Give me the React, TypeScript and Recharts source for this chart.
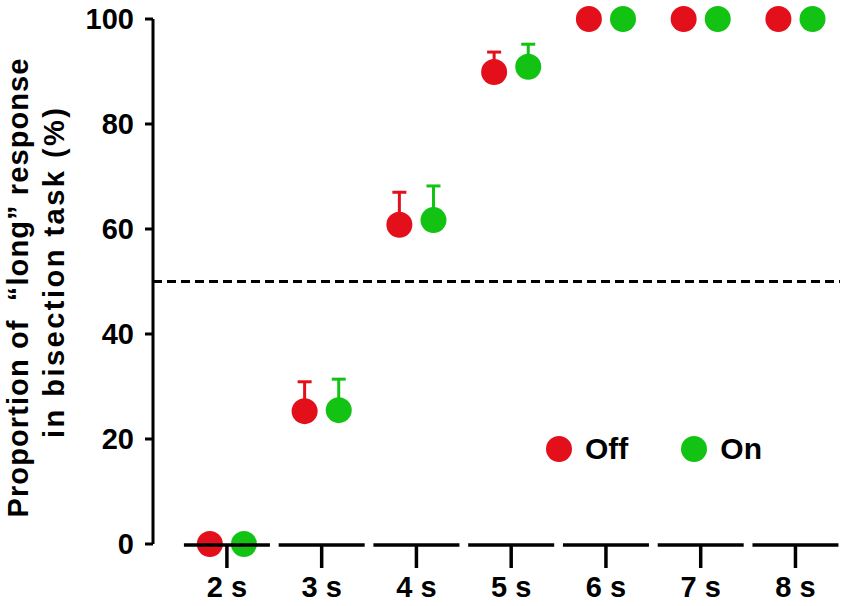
import React from 'react';
import { ComposedChart, Scatter, XAxis, YAxis, ReferenceLine, ErrorBar, Legend } from 'recharts';

// durations tested in the bisection task
const categories = ['2 s', '3 s', '4 s', '5 s', '6 s', '7 s', '8 s'];

// "long" responses (%) and upper error, light off / light on
const offMean = [0, 25.3, 60.8, 89.9, 100, 100, 100];
const offErr = [0, 5.6, 6.2, 3.8, 0, 0, 0];
const onMean = [0, 25.5, 61.7, 90.9, 100, 100, 100];
const onErr = [0, 5.9, 6.5, 4.3, 0, 0, 0];

const yTicks = [0, 20, 40, 60, 80, 100];
const chanceLevel = 50;

const RED = '#e3101c';
const GREEN = '#13c313';
const FONT = '"Liberation Sans", Arial, sans-serif';
const SHIFT = 0.18; // side-by-side offset within a category

const offData = categories.map((_, i) => ({ x: i - SHIFT, y: offMean[i], err: [0, offErr[i]] }));
const onData = categories.map((_, i) => ({ x: i + SHIFT, y: onMean[i], err: [0, onErr[i]] }));

const XTick = (props: any) => {
  const { x, y, payload } = props;
  return (
    <g>
      <line x1={x - 43} x2={x + 43} y1={y + 1} y2={y + 1} stroke="#000" strokeWidth={3.5} />
      <line x1={x} x2={x} y1={y + 1} y2={y + 24} stroke="#000" strokeWidth={3.5} />
      <text x={x} y={y + 53} textAnchor="middle" fill="#000" fontFamily={FONT} fontWeight="bold" fontSize={29}>
        {categories[payload.value]}
      </text>
    </g>
  );
};

const YTitle = () => (
  <g fontFamily={FONT} fontWeight="bold" fontSize={29} fill="#000">
    <text
      transform="translate(28, 288) rotate(-90)"
      textAnchor="middle"
      textLength={459}
      lengthAdjust="spacing"
      style={{ whiteSpace: 'pre' }}
    >
      {'Proportion of  \u201Clong\u201D response'}
    </text>
    <text transform="translate(64, 273) rotate(-90)" textAnchor="middle" textLength={330} lengthAdjust="spacing">
      in bisection task (%)
    </text>
  </g>
);

const LegendContent = (props: any) => (
  <div style={{ display: 'flex', alignItems: 'center', fontFamily: FONT, fontWeight: 'bold', fontSize: 30, color: '#000' }}>
    {(props.payload || []).map((e: any, idx: number) => (
      <div key={e.value} style={{ display: 'flex', alignItems: 'center', marginLeft: idx ? 53 : 0 }}>
        <span style={{ width: 26, height: 26, borderRadius: '50%', background: e.color, display: 'inline-block' }} />
        <span style={{ marginLeft: 13 }}>{e.value}</span>
      </div>
    ))}
  </div>
);

const dot = (color: string) => (p: any) => <circle cx={p.cx} cy={p.cy} r={13} fill={color} />;

export default function App() {
  return (
    <div>
      <style>{'body{margin:0;background:#fff}'}</style>
      <ComposedChart width={851} height={606} margin={{ top: 19, right: 11, left: 0, bottom: 0 }}>
        <XAxis
          type="number"
          dataKey="x"
          domain={[-0.78, 6.47]}
          ticks={categories.map((_, i) => i)}
          axisLine={false}
          tickLine={false}
          tickSize={0}
          tickMargin={0}
          height={62}
          tick={<XTick />}
          interval={0}
        />
        <YAxis
          type="number"
          dataKey="y"
          domain={[0, 100]}
          ticks={yTicks}
          width={153}
          tickSize={8}
          tickMargin={11}
          axisLine={{ stroke: '#000', strokeWidth: 3 }}
          tickLine={{ stroke: '#000', strokeWidth: 3 }}
          tick={{ fill: '#000', fontSize: 29, fontWeight: 'bold', fontFamily: FONT }}
          label={{ content: () => <YTitle /> }}
        />
        <ReferenceLine y={chanceLevel} stroke="#000" strokeWidth={3} strokeDasharray="9 5" />
        <Scatter name="Off" data={offData} fill={RED} shape={dot(RED)} isAnimationActive={false}>
          <ErrorBar dataKey="err" direction="y" width={7} strokeWidth={3} stroke={RED} />
        </Scatter>
        <Scatter name="On" data={onData} fill={GREEN} shape={dot(GREEN)} isAnimationActive={false}>
          <ErrorBar dataKey="err" direction="y" width={7} strokeWidth={3} stroke={GREEN} />
        </Scatter>
        <Legend
          layout="horizontal"
          verticalAlign="middle"
          align="center"
          content={<LegendContent />}
          wrapperStyle={{ left: 546, top: 432, width: 'auto' }}
        />
      </ComposedChart>
    </div>
  );
}
